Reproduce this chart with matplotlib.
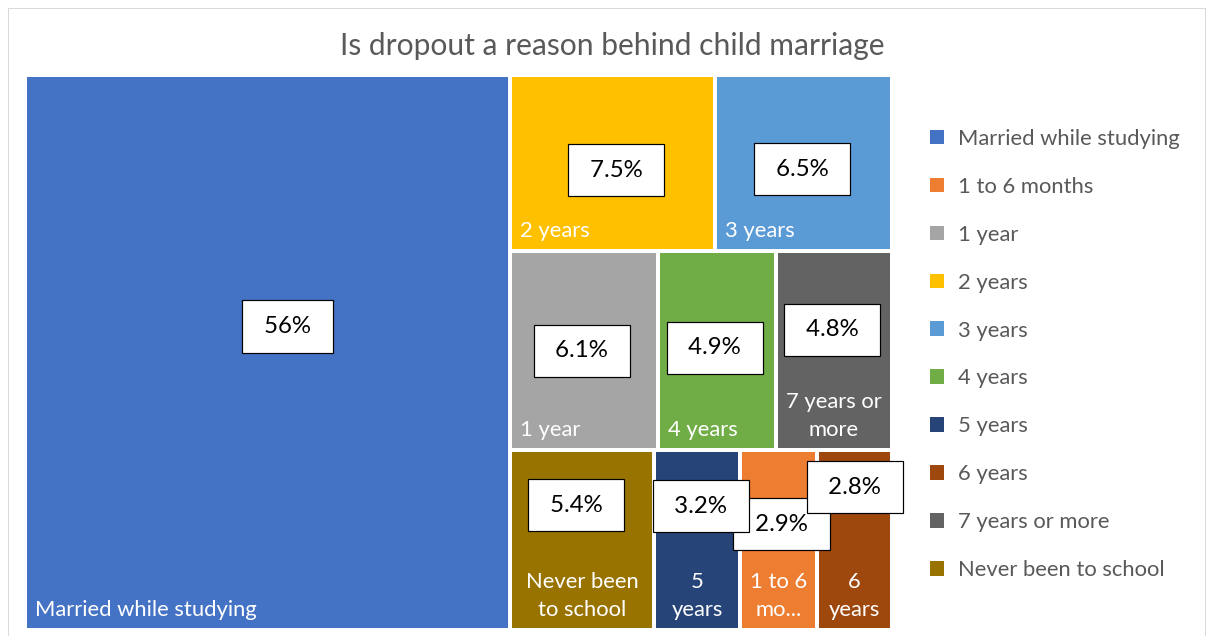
import matplotlib.pyplot as plt
from matplotlib.patches import Rectangle, Patch

plt.rcParams['font.family'] = ['Lato', 'DejaVu Sans']

# data (legend order = data order)
categories = ['Married while studying', '1 to 6 months', '1 year', '2 years', '3 years',
              '4 years', '5 years', '6 years', '7 years or more', 'Never been to school']
values = [56, 2.9, 6.1, 7.5, 6.5, 4.9, 3.2, 2.8, 4.8, 5.4]
pct_labels = ['56%', '2.9%', '6.1%', '7.5%', '6.5%', '4.9%', '3.2%', '2.8%', '4.8%', '5.4%']
tile_labels = ['Married while studying', '1 to 6\nmo...', '1 year', '2 years', '3 years',
               '4 years', '5\nyears', '6\nyears', '7 years or\nmore', 'Never been\nto school']
colors = ['#4472C4', '#ED7D31', '#A5A5A5', '#FFC000', '#5B9BD5',
          '#70AD47', '#264478', '#9E480E', '#636363', '#997300']

# treemap arrangement: first tile is a full-height column, the rest in rows
first = 'Married while studying'
rows = [['2 years', '3 years'],
        ['1 year', '4 years', '7 years or more'],
        ['Never been to school', '5 years', '1 to 6 months', '6 years']]

# where the % boxes were dragged, offset from tile centre (px, y down)
box_offset = {'Married while studying': (20, -26), '2 years': (4, 7), '3 years': (-1, 6),
              '1 year': (-2, 0), '4 years': (-2, -3), '7 years or more': (-2, -21),
              'Never been to school': (-6, -35), '5 years': (4, -34),
              '1 to 6 months': (3, -16), '6 years': (0, -53)}

val = dict(zip(categories, values))
col = dict(zip(categories, colors))
pct = dict(zip(categories, pct_labels))
lab = dict(zip(categories, tile_labels))

# layout in axes units (0..1, y downwards)
total = sum(values)
rects = {}
fw = val[first] / total
rects[first] = (0, 0, fw, 1)
rest = total - val[first]
y = 0
for row in rows:
    rs = sum(val[n] for n in row)
    h = rs / rest
    x = fw
    for n in row:
        w = (1 - fw) * val[n] / rs
        rects[n] = (x, y, w, h)
        x += w
    y += h

W, H = 1208, 636
fig = plt.figure(figsize=(W / 72, H / 72), dpi=72)
fig.patches.append(Rectangle((8 / W, -0.01), (1205 - 8) / W, (H - 8) / H + 0.01,
                             transform=fig.transFigure, fill=False,
                             edgecolor='#D9D9D9', linewidth=1))
ax = fig.add_axes([25 / W, (H - 630) / H, 867 / W, 555 / H])
ax.set_xlim(0, 1)
ax.set_ylim(1, 0)
ax.axis('off')

for n in categories:
    x, y, w, h = rects[n]
    ax.add_patch(Rectangle((x, y), w, h, facecolor=col[n], edgecolor='white', linewidth=4))
    if '\n' in lab[n]:
        ax.annotate(lab[n], (x + w / 2, y + h), xytext=(0, 10), textcoords='offset points',
                    ha='center', va='bottom', color='white', fontsize=22, linespacing=1.5)
    else:
        ax.annotate(lab[n], (x, y + h), xytext=(10, 10), textcoords='offset points',
                    ha='left', va='bottom', color='white', fontsize=22)
    dx, dy = box_offset[n]
    ax.annotate(' ' + pct[n] + ' ', (x + w / 2, y + h / 2), xytext=(dx, -dy),
                textcoords='offset points', ha='center', va='center', fontsize=24,
                color='black',
                bbox=dict(boxstyle='square,pad=0.65', facecolor='white',
                          edgecolor='black', linewidth=1.2))

fig.text(612 / W, 1 - 46 / H, 'Is dropout a reason behind child marriage',
         ha='center', va='center', fontsize=30, color='#595959')

handles = [Patch(facecolor=c, edgecolor='none') for c in colors]
fig.legend(handles, categories, loc='upper left', bbox_to_anchor=(910 / W, 1 - 109 / H),
           frameon=False, fontsize=22, labelcolor='#595959', handlelength=0.65,
           handleheight=0.65, handletextpad=0.65, labelspacing=1.27)

fig.savefig('out.png', dpi=72, facecolor='white')
